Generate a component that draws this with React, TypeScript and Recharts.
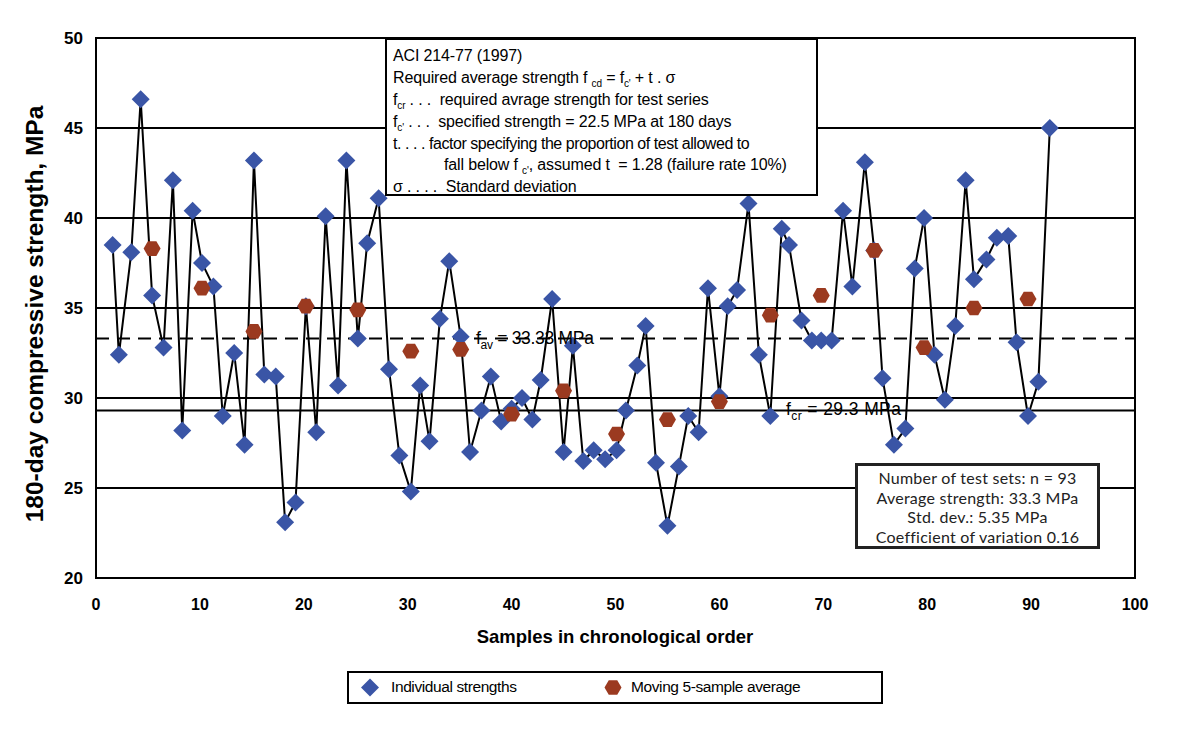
import {
  ComposedChart,
  Line,
  Scatter,
  XAxis,
  YAxis,
  CartesianGrid,
  ReferenceLine,
} from 'recharts';

// x position of each sample as plotted
const samplePos = [
  1.6, 2.2, 3.4, 4.3, 5.4, 6.5, 7.4, 8.3, 9.3, 10.2,
  11.3, 12.2, 13.3, 14.3, 15.2, 16.2, 17.3, 18.2, 19.2, 20.2,
  21.2, 22.1, 23.3, 24.1, 25.2, 26.1, 27.2, 28.2, 29.2, 30.3,
  31.2, 32.1, 33.1, 34.0, 35.1, 36.0, 37.1, 38.0, 39.0, 40.0,
  41.0, 42.0, 42.8, 43.9, 45.0, 45.9, 46.9, 47.9, 49.0, 50.1,
  51.0, 52.1, 52.9, 53.9, 55.0, 56.1, 57.0, 58.0, 58.9, 60.0,
  60.8, 61.7, 62.8, 63.8, 64.9, 66.0, 66.7, 67.9, 68.9, 69.8,
  70.8, 71.9, 72.8, 74.0, 74.9, 75.7, 76.8, 77.9, 78.8, 79.7,
  80.7, 81.7, 82.7, 83.7, 84.5, 85.7, 86.7, 87.8, 88.6, 89.7,
  90.7, 91.8,
];

// individual 180-day strengths in chronological order (MPa)
const strengths = [
  38.5, 32.4, 38.1, 46.6, 35.7, 32.8, 42.1, 28.2, 40.4, 37.5,
  36.2, 29.0, 32.5, 27.4, 43.2, 31.3, 31.2, 23.1, 24.2, 35.1,
  28.1, 40.1, 30.7, 43.2, 33.3, 38.6, 41.1, 31.6, 26.8, 24.8,
  30.7, 27.6, 34.4, 37.6, 33.4, 27.0, 29.3, 31.2, 28.7, 29.4,
  30.0, 28.8, 31.0, 35.5, 27.0, 32.9, 26.5, 27.1, 26.6, 27.1,
  29.3, 31.8, 34.0, 26.4, 22.9, 26.2, 29.0, 28.1, 36.1, 30.1,
  35.1, 36.0, 40.8, 32.4, 29.0, 39.4, 38.5, 34.3, 33.2, 33.2,
  33.2, 40.4, 36.2, 43.1, 38.2, 31.1, 27.4, 28.3, 37.2, 40.0,
  32.4, 29.9, 34.0, 42.1, 36.6, 37.7, 38.9, 39.0, 33.1, 29.0,
  30.9, 45.0,
];

// moving 5-sample average, plotted at every 5th sample
const avgSampleNo = [5, 10, 15, 20, 25, 30, 35, 40, 45, 50, 55, 60, 65, 70, 75, 80, 85, 90];
const avgValues = [
  38.3, 36.1, 33.7, 35.1, 34.9, 32.6, 32.7, 29.1, 30.4,
  28.0, 28.8, 29.8, 34.6, 35.7, 38.2, 32.8, 35.0, 35.5,
];

const xTicks = [0, 10, 20, 30, 40, 50, 60, 70, 80, 90, 100];
const yTicks = [20, 25, 30, 35, 40, 45, 50];

const F_AV = 33.3;
const F_CR = 29.3;

const BLUE = '#3a55a6';
const RED = '#9b3a20';
const ARIAL = '"Liberation Sans", Arial, sans-serif';

const individualData = strengths.map((v, i) => ({ sample: samplePos[i], strength: v }));
const avgData = avgSampleNo.map((n, i) => ({ sample: samplePos[n - 1], avg: avgValues[i] }));

function diamondPoints(cx: number, cy: number, r: number) {
  return `${cx},${cy - r} ${cx + r},${cy} ${cx},${cy + r} ${cx - r},${cy}`;
}

function hexPoints(cx: number, cy: number, r: number) {
  const pts: string[] = [];
  for (let k = 0; k < 6; k++) {
    const a = (Math.PI / 3) * k;
    pts.push(`${cx + r * Math.cos(a)},${cy + r * Math.sin(a)}`);
  }
  return pts.join(' ');
}

function DiamondDot(props: any) {
  const { cx, cy, index } = props;
  if (cx == null || cy == null) return null;
  return <polygon key={`d-${index}`} points={diamondPoints(cx, cy, 9)} fill={BLUE} />;
}

function HexDot(props: any) {
  const { cx, cy } = props;
  if (cx == null || cy == null) return null;
  return <polygon points={hexPoints(cx, cy, 8.5)} fill={RED} />;
}

const sub: React.CSSProperties = { fontSize: 10, position: 'relative', top: 4, lineHeight: 0 };
const noteLine: React.CSSProperties = { height: 21.9, lineHeight: '21.9px' };

export default function App() {
  return (
    <div style={{ position: 'relative', width: 1181, height: 736, margin: -8, background: '#fff', overflow: 'hidden' }}>
      <ComposedChart
        width={1181}
        height={736}
        data={individualData}
        margin={{ top: 38, right: 46, bottom: 128, left: 36 }}
      >
        <CartesianGrid vertical={false} stroke="#000" strokeWidth={2} />
        <XAxis
          type="number"
          dataKey="sample"
          domain={[0, 100]}
          ticks={xTicks}
          height={30}
          tickLine={false}
          tickSize={0}
          tickMargin={21}
          axisLine={{ stroke: '#000', strokeWidth: 2 }}
          tick={{ fill: '#000', fontSize: 16, fontWeight: 'bold', fontFamily: ARIAL }}
        />
        <YAxis
          type="number"
          domain={[20, 50]}
          ticks={yTicks}
          width={60}
          tickLine={false}
          tickSize={0}
          tickMargin={13}
          axisLine={{ stroke: '#000', strokeWidth: 2 }}
          tick={{ fill: '#000', fontSize: 17, fontWeight: 'bold', fontFamily: ARIAL }}
        />
        <ReferenceLine y={F_CR} stroke="#000" strokeWidth={2} />
        <ReferenceLine y={F_AV} stroke="#000" strokeWidth={2} strokeDasharray="13 8" />
        <Line
          dataKey="strength"
          stroke="#000"
          strokeWidth={2}
          dot={<DiamondDot />}
          activeDot={false}
          isAnimationActive={false}
        />
        <Scatter data={avgData} dataKey="avg" shape={<HexDot />} isAnimationActive={false} />
      </ComposedChart>

      {/* plot frame */}
      <div style={{ position: 'absolute', left: 95, top: 37, width: 1041, height: 542, border: '2px solid #000', boxSizing: 'border-box', pointerEvents: 'none' }} />

      {/* outer frame */}
      <div style={{ position: 'absolute', left: 4, top: 4, width: 1173, height: 728, border: '2px solid #000', boxSizing: 'border-box', pointerEvents: 'none' }} />

      {/* axis titles */}
      <div style={{ position: 'absolute', left: 35, top: 314, transform: 'translate(-50%, -50%) rotate(-90deg)', whiteSpace: 'nowrap', fontFamily: ARIAL, fontWeight: 'bold', fontSize: 24.5 }}>
        180-day compressive strength, MPa
      </div>
      <div style={{ position: 'absolute', left: 615, top: 626, transform: 'translateX(-50%)', whiteSpace: 'nowrap', fontFamily: ARIAL, fontWeight: 'bold', fontSize: 18.5 }}>
        Samples in chronological order
      </div>

      {/* line labels */}
      <div style={{ position: 'absolute', left: 476, top: 328, whiteSpace: 'pre', fontFamily: ARIAL, fontSize: 17.5, lineHeight: '20px', letterSpacing: -0.3 }}>
        f<span style={{ fontSize: 12, position: 'relative', top: 5, lineHeight: 0 }}>av</span> = 33.33 MPa
      </div>
      <div style={{ position: 'absolute', left: 786, top: 399, whiteSpace: 'pre', fontFamily: ARIAL, fontSize: 17.5, lineHeight: '20px', letterSpacing: 0.4 }}>
        f<span style={{ fontSize: 12, position: 'relative', top: 5, lineHeight: 0 }}>cr</span> = 29.3 MPa
      </div>

      {/* ACI note */}
      <div style={{ position: 'absolute', left: 385, top: 38, width: 433, height: 158, background: '#fff', border: '2px solid #000', boxSizing: 'border-box', padding: '5px 0 0 6px', fontFamily: ARIAL, fontSize: 16, whiteSpace: 'pre', letterSpacing: -0.15 }}>
        <div style={noteLine}>ACI 214-77 (1997)</div>
        <div style={noteLine}>Required average strength f <span style={sub}>cd</span> = f<span style={sub}>c'</span> + t . σ</div>
        <div style={noteLine}>f<span style={sub}>cr</span> . . .  required avrage strength for test series</div>
        <div style={noteLine}>f<span style={sub}>c'</span> . . .  specified strength = 22.5 MPa at 180 days</div>
        <div style={{ ...noteLine, letterSpacing: -0.45 }}>t. . . . factor specifying the proportion of test allowed to</div>
        <div style={{ ...noteLine, paddingLeft: 51 }}>fall below f <span style={sub}>c'</span>, assumed t  = 1.28 (failure rate 10%)</div>
        <div style={noteLine}>σ . . . .  Standard deviation</div>
      </div>

      {/* statistics */}
      <div style={{ position: 'absolute', left: 855, top: 463, width: 245, height: 86, background: '#fff', border: '3px solid #222', boxSizing: 'border-box', paddingTop: 2, fontFamily: 'Lato, sans-serif', fontSize: 16, lineHeight: '19.5px', textAlign: 'center', color: '#222', letterSpacing: 0.25, whiteSpace: 'nowrap' }}>
        <div>Number of test sets: n = 93</div>
        <div>Average strength: 33.3 MPa</div>
        <div>Std. dev.: 5.35 MPa</div>
        <div>Coefficient of variation 0.16</div>
      </div>

      {/* legend */}
      <div style={{ position: 'absolute', left: 347, top: 671, width: 536, height: 33, border: '2px solid #000', boxSizing: 'border-box', fontFamily: ARIAL, fontSize: 15.5, letterSpacing: -0.4 }}>
        <svg width={532} height={29} style={{ position: 'absolute', left: 0, top: 0 }}>
          <polygon points={diamondPoints(21, 14.5, 9)} fill={BLUE} />
          <polygon points={hexPoints(264, 14.5, 8.5)} fill={RED} />
        </svg>
        <div style={{ position: 'absolute', left: 42, top: 5 }}>Individual strengths</div>
        <div style={{ position: 'absolute', left: 282, top: 5 }}>Moving 5-sample average</div>
      </div>
    </div>
  );
}
